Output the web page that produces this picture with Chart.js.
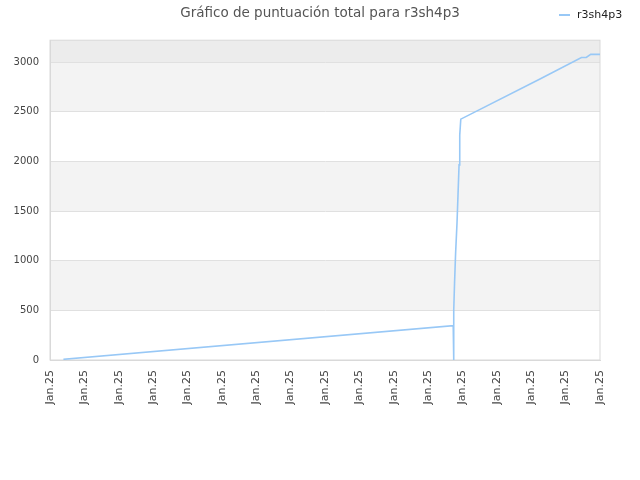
<!DOCTYPE html>
<html>
<head>
<meta charset="utf-8">
<script src="https://cdn.jsdelivr.net/npm/chart.js@4/dist/chart.umd.min.js"></script>
<style>
  body { margin: 0; background: #fff; }
  #wrap { width: 640px; height: 480px; }
</style>
</head>
<body>
<div id="wrap"><canvas id="scoreChart" width="640" height="480"></canvas></div>
<script>
// values
const playerName = 'r3sh4p3';
const xPos = [0.39, 11.73, 11.74, 11.75, 11.77, 11.80, 11.84, 11.87, 11.90, 11.92, 11.95, 14.24, 15.46, 15.60, 15.73, 16.0];
const scores = [7, 346, 0, 504, 789, 1081, 1377, 1670, 1965, 2267, 2425, 2826, 3046, 3046, 3077, 3077];
const xLabels = ['Jan.25','Jan.25','Jan.25','Jan.25','Jan.25','Jan.25','Jan.25','Jan.25','Jan.25',
                 'Jan.25','Jan.25','Jan.25','Jan.25','Jan.25','Jan.25','Jan.25','Jan.25'];
const yTicks = [0, 500, 1000, 1500, 2000, 2500, 3000];
const yMax = 3220;

const lineColor = '#98c8f6';

const points = xPos.map((x, i) => ({ x: x, y: scores[i] }));

// grey bands behind the grid, plot frame and the little legend at top right
const bandPlugin = {
    id: 'bands',
    beforeDraw(chart) {
        const ctx = chart.ctx;
        const area = chart.chartArea;
        const y = chart.scales.y;
        ctx.save();
        for (let i = 1; i < yTicks.length - 1; i += 2) {
            const top = y.getPixelForValue(yTicks[i + 1]);
            const bottom = y.getPixelForValue(yTicks[i]);
            ctx.fillStyle = '#f3f3f3';
            ctx.fillRect(area.left, top, area.right - area.left, bottom - top);
        }
        const last = y.getPixelForValue(yTicks[yTicks.length - 1]);
        ctx.fillStyle = '#ececec';
        ctx.fillRect(area.left, area.top, area.right - area.left, last - area.top);
        ctx.restore();
    },
    beforeDatasetsDraw(chart) {
        const ctx = chart.ctx;
        const area = chart.chartArea;
        ctx.save();
        ctx.strokeStyle = '#d9d9d9';
        ctx.lineWidth = 1;
        ctx.strokeRect(area.left, area.top, area.right - area.left, area.bottom - area.top);
        ctx.restore();
    },
    afterDraw(chart) {
        const ctx = chart.ctx;
        const ds = chart.data.datasets[0];
        ctx.save();
        ctx.strokeStyle = ds.borderColor;
        ctx.lineWidth = 2;
        ctx.beginPath();
        ctx.moveTo(559, 15);
        ctx.lineTo(570, 15);
        ctx.stroke();
        ctx.fillStyle = '#222';
        ctx.font = '11px "DejaVu Sans"';
        ctx.textBaseline = 'middle';
        ctx.fillText(ds.label, 577, 15);
        ctx.restore();
    }
};

const ctx = document.getElementById('scoreChart').getContext('2d');
const scoreChart = new Chart(ctx, {
    type: 'line',
    data: {
        datasets: [{
            label: playerName,
            data: points,
            borderColor: lineColor,
            borderWidth: 1.6,
            pointRadius: 0,
            tension: 0,
            fill: false
        }]
    },
    options: {
        responsive: false,
        animation: false,
        layout: { padding: 0 },
        plugins: {
            legend: { display: false },
            tooltip: { enabled: false },
            title: {
                display: true,
                text: 'Gráfico de puntuación total para ' + playerName,
                color: '#555',
                font: { family: 'DejaVu Sans', size: 13.5, weight: 'normal' },
                padding: { top: 5, bottom: 19 }
            }
        },
        scales: {
            x: {
                type: 'linear',
                min: 0,
                max: 16,
                afterFit(scale) { scale.height = 120; },
                grid: { display: false, drawTicks: false },
                border: { color: '#d9d9d9' },
                ticks: {
                    stepSize: 1,
                    autoSkip: false,
                    minRotation: 90,
                    maxRotation: 90,
                    padding: 10,
                    color: '#444',
                    font: { family: 'DejaVu Sans', size: 11 },
                    callback: function (value) { return xLabels[value]; }
                }
            },
            y: {
                min: 0,
                max: yMax,
                afterFit(scale) { scale.width = 50; },
                afterBuildTicks(scale) { scale.ticks = yTicks.map(v => ({ value: v })); },
                grid: { color: '#e0e0e0', drawTicks: false },
                border: { color: '#d9d9d9' },
                ticks: {
                    padding: 11,
                    color: '#444',
                    font: { family: 'DejaVu Sans', size: 10 },
                    callback: function (value) { return String(value); }
                }
            },
            // empty right-hand axis only to leave the margin on the right
            yRight: {
                position: 'right',
                min: 0,
                max: yMax,
                afterFit(scale) { scale.width = 40; },
                grid: { display: false, drawTicks: false },
                border: { display: false },
                ticks: { display: false }
            }
        }
    },
    plugins: [bandPlugin]
});
</script>
</body>
</html>
